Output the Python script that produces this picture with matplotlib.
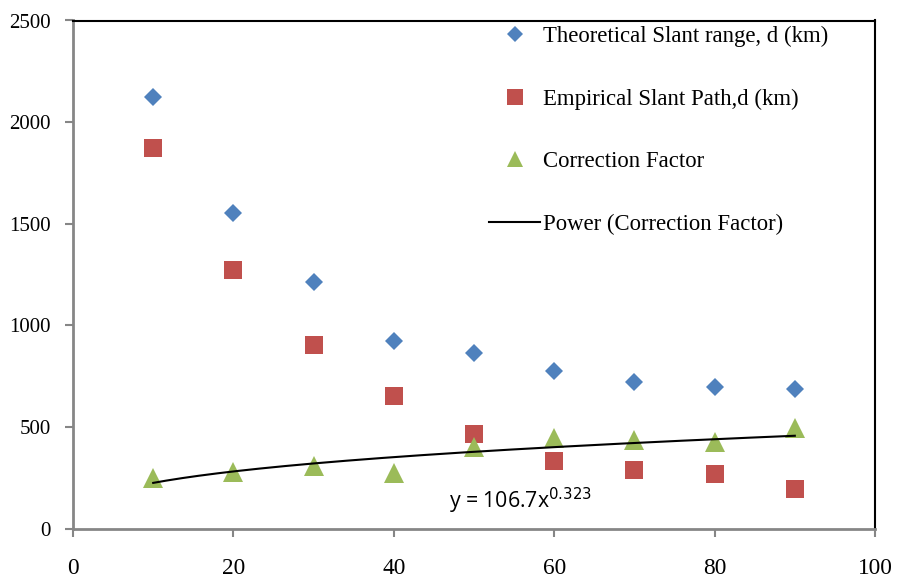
import numpy as np
import matplotlib
matplotlib.use("Agg")
import matplotlib.pyplot as plt

angles = [10, 20, 30, 40, 50, 60, 70, 80, 90]
theoretical = [2122, 1551, 1213, 923, 864, 776, 722, 697, 688]
empirical = [1873, 1272, 904, 653, 467, 334, 290, 270, 196]
correction = [248, 280, 309, 275, 403, 444, 437, 427, 494]
fit_a, fit_b = 106.7, 0.323

x_ticks = [0, 20, 40, 60, 80, 100]
y_ticks = [0, 500, 1000, 1500, 2000, 2500]

serif = "Liberation Serif"
fig = plt.figure(figsize=(8.98, 5.80), dpi=100)
W, H = 898, 580
ax = fig.add_axes([73 / W, 1 - 528.5 / H, (875 - 73) / W, (528.5 - 20.5) / H])

ax.plot(angles, theoretical, linestyle="none", marker="D", ms=9.5, color="#4F81BD",
        mew=0, label="Theoretical Slant range, d (km)", clip_on=False)
ax.plot(angles, empirical, linestyle="none", marker="s", ms=13.5, color="#C0504D",
        mew=0, label="Empirical Slant Path,d (km)", clip_on=False)
ax.plot(angles, correction, linestyle="none", marker="^", ms=14, color="#9BBB59",
        mew=0, label="Correction Factor", clip_on=False)
xf = np.linspace(angles[0], angles[-1], 200)
ax.plot(xf, fit_a * xf ** fit_b, color="black", lw=1.5, label="Power (Correction Factor)")

ax.set_xlim(0, 100)
ax.set_ylim(0, 2500)
ax.set_xticks(x_ticks)
ax.set_yticks(y_ticks)
ax.tick_params(axis="both", colors="#868686", labelcolor="black", length=6, width=1.5)
ax.tick_params(axis="x", pad=15.5, labelsize=16.8)
ax.tick_params(axis="y", pad=10, labelsize=15)
for lab in ax.get_xticklabels() + ax.get_yticklabels():
    lab.set_family(serif)
ax.spines["left"].set_color("#868686")
ax.spines["bottom"].set_color("#868686")
ax.spines["left"].set_linewidth(2)
ax.spines["bottom"].set_linewidth(2)
ax.spines["top"].set_color("black")
ax.spines["right"].set_color("black")
ax.spines["top"].set_linewidth(1.5)
ax.spines["right"].set_linewidth(1.5)

ax.text(449 / W, 1 - 501 / H, r"y = 106.7x$^{0.323}$", transform=fig.transFigure,
        fontsize=15.3, family="Open Sans", ha="left", va="center")

leg = ax.legend(loc="upper left", bbox_to_anchor=(489 / W, 1 - 26 / H),
                bbox_transform=fig.transFigure, frameon=False,
                prop={"family": serif, "size": 16.4}, labelspacing=1.82,
                handlelength=2.24, handletextpad=0.15, borderpad=0, borderaxespad=0,
                markerscale=0.85)
fig.savefig("out.png", dpi=100)
